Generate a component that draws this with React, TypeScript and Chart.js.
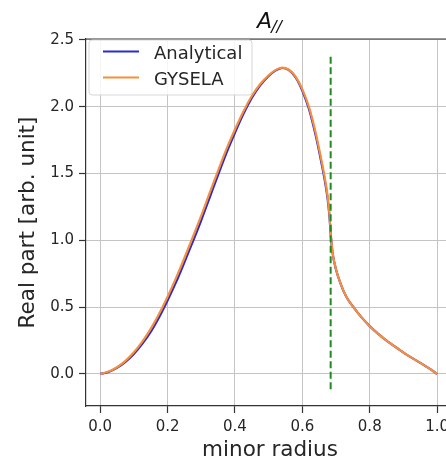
import React, { useEffect, useRef } from "react";
import { Chart, registerables } from "chart.js";

Chart.register(...registerables);

const radius = [0, 0.025, 0.05, 0.075, 0.1, 0.125, 0.15, 0.175, 0.2, 0.225, 0.25, 0.275, 0.3, 0.325, 0.35, 0.375, 0.4, 0.425, 0.45, 0.475, 0.5, 0.52, 0.54, 0.56, 0.58, 0.6, 0.62, 0.64, 0.655, 0.665, 0.675, 0.68, 0.685, 0.69, 0.7, 0.715, 0.73, 0.75, 0.775, 0.8, 0.825, 0.85, 0.875, 0.9, 0.925, 0.95, 0.975, 1.0];
const analytical = [0, 0.015, 0.045, 0.09, 0.15, 0.225, 0.315, 0.425, 0.55, 0.685, 0.835, 0.99, 1.15, 1.32, 1.49, 1.655, 1.805, 1.945, 2.065, 2.16, 2.23, 2.27, 2.29, 2.275, 2.22, 2.12, 1.98, 1.78, 1.6, 1.47, 1.31, 1.19, 1.02, 0.9, 0.78, 0.665, 0.58, 0.505, 0.425, 0.358, 0.3, 0.25, 0.204, 0.16, 0.12, 0.083, 0.043, 0.0];
const gysela = [0, 0.018, 0.05, 0.098, 0.162, 0.242, 0.337, 0.45, 0.578, 0.717, 0.868, 1.025, 1.185, 1.355, 1.522, 1.685, 1.83, 1.965, 2.08, 2.17, 2.236, 2.274, 2.292, 2.277, 2.225, 2.13, 1.995, 1.8, 1.62, 1.49, 1.33, 1.205, 1.03, 0.905, 0.782, 0.667, 0.58, 0.505, 0.425, 0.358, 0.3, 0.25, 0.204, 0.16, 0.12, 0.083, 0.043, 0.0];
const markerX = [0.684, 0.684];
const markerY = [-0.115, 2.38];
const xTicks = [0, 0.2, 0.4, 0.6, 0.8, 1.0];
const yTicks = [0, 0.5, 1.0, 1.5, 2.0, 2.5];
const seriesNames = ["Analytical", "GYSELA"];
const seriesColors = ["#2a2ad2", "#f68f3c"];
const titleMain = "A";
const titleSub = "//";
const xLabel = "minor radius";
const yLabel = "Real part [arb. unit]";

const FONT = '"DejaVu Sans", sans-serif';

const decorPlugin = {
  id: "decor",
  afterDraw(chart: any) {
    const { ctx, chartArea } = chart;
    const { left, right, top } = chartArea;
    ctx.save();
    // top spine
    ctx.strokeStyle = "#333333";
    ctx.lineWidth = 1.2;
    ctx.beginPath();
    ctx.moveTo(left, top);
    ctx.lineTo(right, top);
    ctx.stroke();

    // title A_{//}
    const cx = (left + right) / 2;
    ctx.fillStyle = "#111111";
    ctx.textBaseline = "alphabetic";
    ctx.textAlign = "left";
    ctx.font = `italic 22px ${FONT}`;
    const wA = ctx.measureText(titleMain).width;
    ctx.font = `italic 16px ${FONT}`;
    const wS = ctx.measureText(titleSub).width;
    const startX = cx - (wA + wS) / 2;
    ctx.font = `italic 22px ${FONT}`;
    ctx.fillText(titleMain, startX, 28);
    ctx.font = `italic 16px ${FONT}`;
    ctx.fillText(titleSub, startX + wA - 1, 32);

    // legend
    const bx = 89, by = 40, bw = 163, bh = 55, r = 3;
    ctx.beginPath();
    ctx.moveTo(bx + r, by);
    ctx.lineTo(bx + bw - r, by);
    ctx.quadraticCurveTo(bx + bw, by, bx + bw, by + r);
    ctx.lineTo(bx + bw, by + bh - r);
    ctx.quadraticCurveTo(bx + bw, by + bh, bx + bw - r, by + bh);
    ctx.lineTo(bx + r, by + bh);
    ctx.quadraticCurveTo(bx, by + bh, bx, by + bh - r);
    ctx.lineTo(bx, by + r);
    ctx.quadraticCurveTo(bx, by, bx + r, by);
    ctx.closePath();
    ctx.fillStyle = "rgba(255,255,255,0.85)";
    ctx.fill();
    ctx.strokeStyle = "rgba(210,210,210,0.9)";
    ctx.lineWidth = 1;
    ctx.stroke();

    const rows = [51.5, 77.5];
    ctx.font = `18px ${FONT}`;
    seriesNames.forEach((name, i) => {
      ctx.strokeStyle = seriesColors[i];
      ctx.lineWidth = 2.2;
      ctx.beginPath();
      ctx.moveTo(103, rows[i]);
      ctx.lineTo(139, rows[i]);
      ctx.stroke();
      ctx.fillStyle = "#262626";
      ctx.fillText(name, 154, rows[i] + 7.5);
    });
    ctx.restore();
  },
};

export default function App() {
  const ref = useRef<HTMLCanvasElement | null>(null);

  useEffect(() => {
    if (!ref.current) return;
    const pts = (xs: number[], ys: number[]) => xs.map((x, i) => ({ x, y: ys[i] }));
    const chart = new Chart(ref.current, {
      type: "scatter",
      data: {
        datasets: [
          {
            label: seriesNames[0],
            data: pts(radius, analytical),
            showLine: true,
            borderColor: seriesColors[0],
            borderWidth: 2.2,
            pointRadius: 0,
            cubicInterpolationMode: "monotone",
            order: 2,
          },
          {
            label: seriesNames[1],
            data: pts(radius, gysela),
            showLine: true,
            borderColor: seriesColors[1],
            borderWidth: 2.2,
            pointRadius: 0,
            cubicInterpolationMode: "monotone",
            order: 1,
          },
          {
            label: "marker",
            data: pts(markerX, markerY),
            showLine: true,
            borderColor: "#1f8a1f",
            borderWidth: 2,
            borderDash: [7, 3.5],
            pointRadius: 0,
            order: 0,
          },
        ],
      } as any,
      plugins: [decorPlugin],
      options: {
        responsive: false,
        animation: false,
        devicePixelRatio: 1,
        layout: { padding: { top: 39, right: 16, left: 0, bottom: 0 } },
        plugins: {
          legend: { display: false },
          title: { display: false },
          tooltip: { enabled: false },
        },
        scales: {
          x: {
            type: "linear",
            min: -0.042,
            max: 1.05,
            afterBuildTicks: (s: any) => {
              s.ticks = xTicks.map((v) => ({ value: v }));
            },
            afterFit: (s: any) => {
              s.height = 54;
            },
            ticks: {
              callback: (v: any) => Number(v).toFixed(1),
              font: { family: FONT, size: 15 },
              color: "#262626",
              padding: 5,
              maxRotation: 0,
              autoSkip: false,
            },
            grid: {
              color: "#c4c4c4",
              lineWidth: 1,
              tickLength: 7,
              tickColor: "#333333",
              tickWidth: 1.2,
            },
            border: { color: "#333333", width: 1.2 },
            title: {
              display: true,
              text: xLabel,
              font: { family: FONT, size: 21.5, lineHeight: 0.9 },
              color: "#262626",
              padding: { top: 0, bottom: 0 },
            },
          },
          y: {
            type: "linear",
            min: -0.24,
            max: 2.507,
            afterBuildTicks: (s: any) => {
              s.ticks = yTicks.map((v) => ({ value: v }));
            },
            afterFit: (s: any) => {
              s.width = 86;
            },
            ticks: {
              callback: (v: any) => Number(v).toFixed(1),
              font: { family: FONT, size: 15 },
              color: "#262626",
              padding: 5,
              autoSkip: false,
            },
            grid: {
              color: "#c4c4c4",
              lineWidth: 1,
              tickLength: 7,
              tickColor: "#333333",
              tickWidth: 1.2,
            },
            border: { color: "#333333", width: 1.2 },
            title: {
              display: true,
              text: yLabel,
              font: { family: FONT, size: 21.5, lineHeight: 1 },
              color: "#262626",
              padding: { top: 18, bottom: 0 },
            },
          },
        },
      } as any,
    });
    return () => chart.destroy();
  }, []);

  return (
    <div style={{ position: "fixed", left: 0, top: 0, width: 470, height: 460, background: "#fff" }}>
      <canvas ref={ref} width={470} height={460} style={{ display: "block", width: 470, height: 460 }} />
    </div>
  );
}
